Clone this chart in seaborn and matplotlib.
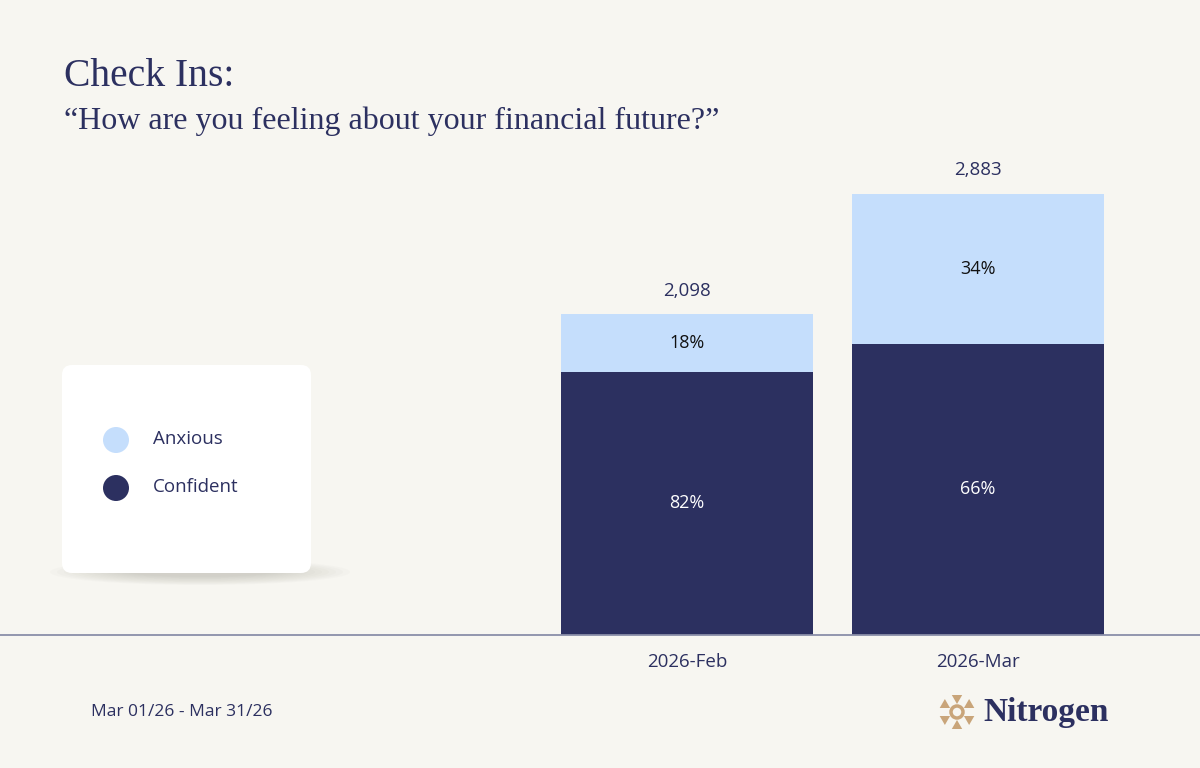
import numpy as np
import pandas as pd
import matplotlib.pyplot as plt
import seaborn as sns
from matplotlib.patches import FancyBboxPatch, RegularPolygon, Circle, Ellipse

# Data
months = ['2026-Feb', '2026-Mar']
totals = [2098, 2883]
confident_pct = [82, 66]
anxious_pct = [18, 34]

BG = '#f7f6f1'
NAVY = '#2c3060'
LIGHT = '#c5defc'
TAN = '#c9a57a'
SANS = 'Open Sans'
SERIF = 'Liberation Serif'

sns.set_style('white')
plt.rcParams['font.family'] = [SANS, 'DejaVu Sans']

df = pd.DataFrame({'month': months, 'total': totals,
                   'confident_pct': confident_pct, 'anxious_pct': anxious_pct})
df['confident'] = df['total'] * df['confident_pct'] / 100

fig = plt.figure(figsize=(12, 7.68), dpi=100, facecolor=BG)

# main plotting area: baseline at y=635px, bars centred at x=687 / 978px
ax = fig.add_axes([0, (768 - 635) / 768, 1, (635 - 150) / 768])
ax.set_facecolor(BG)
sns.barplot(data=df, x='month', y='total', color=LIGHT, width=0.866,
            saturation=1, linewidth=0, ax=ax)
sns.barplot(data=df, x='month', y='confident', color=NAVY, width=0.866,
            saturation=1, linewidth=0, ax=ax)
step = 291
ax.set_xlim(-687 / step, (1200 - 687) / step)
ax.set_ylim(0, max(totals) * 485 / 441)
for s in ['top', 'right', 'left']:
    ax.spines[s].set_visible(False)
ax.spines['bottom'].set_color('#8a8ea8')
ax.spines['bottom'].set_linewidth(1.3)
ax.set_xlabel('')
ax.set_ylabel('')
ax.set_yticks([])
ax.tick_params(axis='x', length=0, pad=13, labelsize=13.5, labelcolor=NAVY)

for i, row in df.iterrows():
    ax.text(i, row['total'] + 95, f"{row['total']:,}", ha='center', va='bottom',
            fontsize=13.5, color=NAVY)
    ax.text(i, row['confident'] / 2, f"{row['confident_pct']}%", ha='center',
            va='center', fontsize=13, color='white')
    ax.text(i, (row['confident'] + row['total']) / 2, f"{row['anxious_pct']}%",
            ha='center', va='center', fontsize=13, color='#111111')

# overlay in pixel coordinates for titles, legend card and footer
ov = fig.add_axes([0, 0, 1, 1], facecolor='none')
ov.set_xlim(0, 1200)
ov.set_ylim(768, 0)
ov.axis('off')

ov.text(64, 76, 'Check Ins:', fontsize=28.5, family=SERIF, color=NAVY,
        va='center', ha='left')
ov.text(64, 121, '\u201cHow are you feeling about your financial future?\u201d',
        fontsize=23, family=SERIF, color=NAVY, va='center', ha='left')

# legend card with a soft shadow underneath
for k in range(12):
    ov.add_patch(Ellipse((200, 572), 300 - k * 14, 26 - k * 1.5,
                         facecolor='#9d998c', edgecolor='none', alpha=0.035))
ov.add_patch(FancyBboxPatch((62, 365), 249, 208, boxstyle='round,pad=0,rounding_size=10',
                            facecolor='white', edgecolor='none'))
for label, color, y in [('Anxious', LIGHT, 440), ('Confident', NAVY, 488)]:
    ov.add_patch(Circle((116, y), 13, facecolor=color, edgecolor='none'))
    ov.text(153, y - 1, label, fontsize=13.5, color=NAVY, va='center', ha='left')

ov.text(91, 712, 'Mar 01/26 - Mar 31/26', fontsize=12.5, color=NAVY,
        va='center', ha='left')

# Nitrogen logo
cx, cy = 957, 712
for a in np.arange(6) * 60 + 30:
    r = 14
    ov.add_patch(RegularPolygon((cx + r * np.cos(np.radians(a)), cy + r * np.sin(np.radians(a))),
                                numVertices=3, radius=6,
                                orientation=np.radians(a + 90),
                                facecolor=TAN, edgecolor='none'))
ov.add_patch(Circle((cx, cy), 6, facecolor='none', edgecolor=TAN, linewidth=2.5))
ov.text(983, 713, 'Nitrogen', fontsize=24, family=SERIF, weight='bold',
        color=NAVY, va='center', ha='left')

fig.savefig('out.png', dpi=100, facecolor=BG)
